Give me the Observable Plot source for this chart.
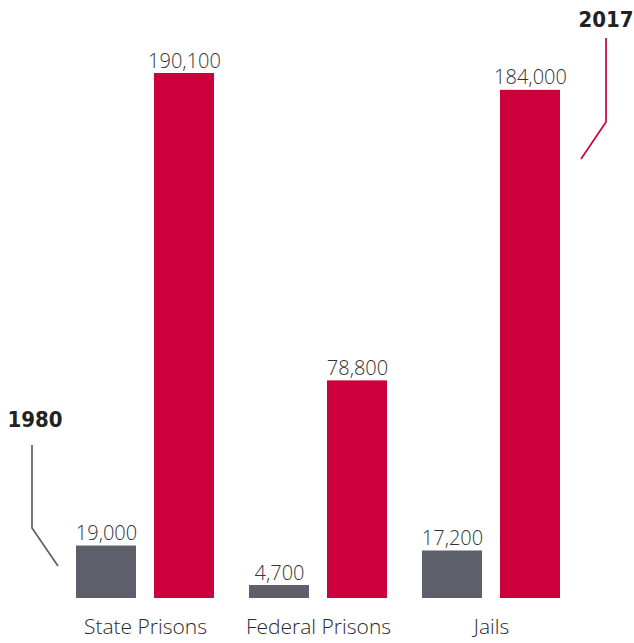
<!DOCTYPE html>
<html><head><meta charset="utf-8">
<script src="https://cdn.jsdelivr.net/npm/d3@7"></script>
<script src="https://cdn.jsdelivr.net/npm/@observablehq/plot@0.6"></script>
<style>body{margin:0;background:#fff} svg{display:block}</style>
</head><body><div id="chart"></div>
<script>
const categories = ["State Prisons", "Federal Prisons", "Jails"];
const years = ["1980", "2017"];
const values1980 = [19000, 4700, 17200];
const values2017 = [190100, 78800, 184000];

const data = categories.flatMap((c, i) => [
  {category: c, year: years[0], value: values1980[i]},
  {category: c, year: years[1], value: values2017[i]}
]);
const fmt = d3.format(",");
const colors = ["#5d5f6b", "#cc003d"];

const chart = Plot.plot({
  width: 634, height: 643,
  marginTop: 73, marginBottom: 45, marginLeft: 76, marginRight: 74,
  style: {fontFamily: "'Open Sans', sans-serif", fontSize: "21px", fontWeight: 300, color: "#2a2a2a", background: "#fff"},
  fx: {domain: categories, paddingInner: 35 / 173, paddingOuter: 0, axis: "bottom", tickSize: 0, tickPadding: 21, label: null},
  x: {domain: years, paddingInner: 18 / 78, paddingOuter: 0, axis: null},
  y: {domain: [0, d3.max(data, d => d.value)], axis: null, nice: false},
  color: {domain: years, range: colors},
  marks: [
    Plot.barY(data, {fx: "category", x: "year", y: "value", fill: "year"}),
    Plot.text(data, {fx: "category", x: "year", y: "value", text: d => fmt(d.value),
      lineAnchor: "bottom", dy: -6, fill: "#333", fontSize: 20, fontWeight: 300})
  ]
});
document.getElementById("chart").appendChild(chart);

// callout annotations positioned from the chart's scales
const fxS = chart.scale("fx"), xS = chart.scale("x"), yS = chart.scale("y");
const barLeft = (c, yr) => fxS.apply(c) + xS.apply(yr) - xS.range[0];
const base = yS.apply(0);
const svg = d3.select(chart);
const g = svg.append("g");

const l80 = barLeft(categories[0], years[0]);
g.append("polyline")
  .attr("points", [[l80 - 44, base - 153], [l80 - 44, base - 70], [l80 - 18, base - 32]].join(" "))
  .attr("fill", "none").attr("stroke", colors[0]).attr("stroke-width", 1.7);
g.append("text").attr("x", l80 - 41).attr("y", base - 171)
  .attr("text-anchor", "middle")
  .attr("font-family", "'DejaVu Sans Condensed', 'Liberation Sans Narrow', sans-serif")
  .attr("font-stretch", "condensed")
  .attr("font-weight", "bold").attr("font-size", 22).attr("fill", "#222").text(years[0]);

const r17 = barLeft(categories[2], years[1]) + xS.bandwidth;
g.append("polyline")
  .attr("points", [[r17 + 46, base - 560], [r17 + 46, base - 476], [r17 + 21, base - 439]].join(" "))
  .attr("fill", "none").attr("stroke", colors[1]).attr("stroke-width", 1.7);
g.append("text").attr("x", r17 + 46).attr("y", base - 571)
  .attr("text-anchor", "middle")
  .attr("font-family", "'DejaVu Sans Condensed', 'Liberation Sans Narrow', sans-serif")
  .attr("font-stretch", "condensed")
  .attr("font-weight", "bold").attr("font-size", 22).attr("fill", "#222").text(years[1]);
</script>
</body></html>
